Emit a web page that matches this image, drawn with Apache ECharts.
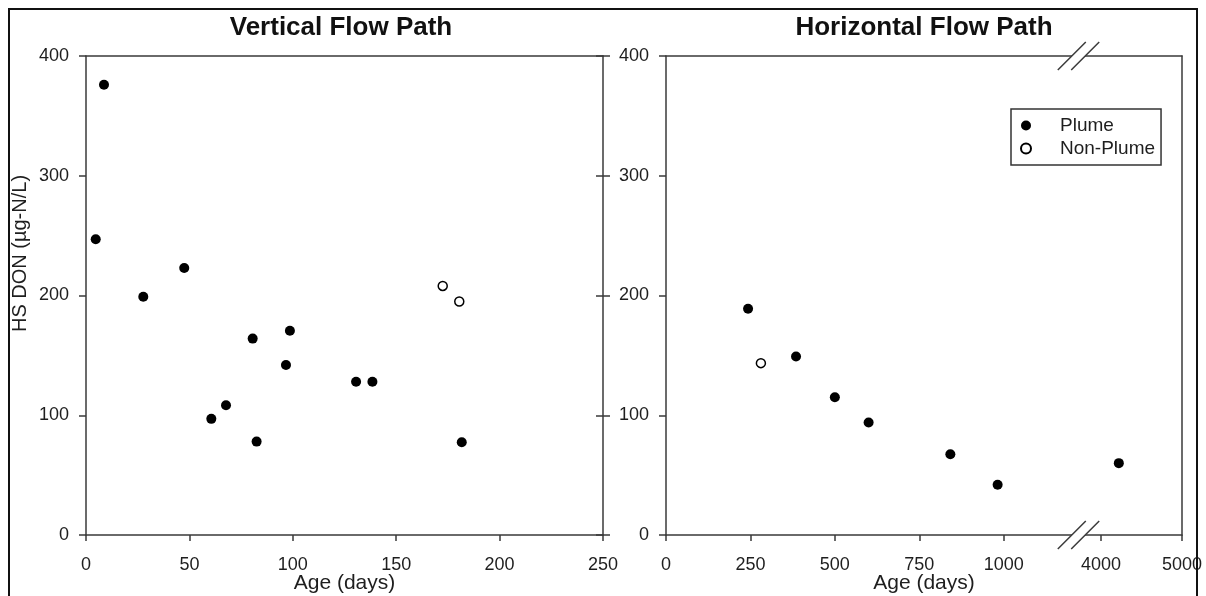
<!DOCTYPE html>
<html><head><meta charset="utf-8">
<script src="https://cdn.jsdelivr.net/npm/echarts@6/dist/echarts.min.js"></script>
<style>html,body{margin:0;padding:0;background:#fff}#c{width:1206px;height:596px}</style>
</head><body><div id="c"></div>
<script>
// ---- data ----
const verticalPlumeAge = [4.7, 8.7, 27.7, 47.5, 60.6, 67.7, 80.6, 82.5, 96.7, 98.6, 130.6, 138.5, 181.7];
const verticalPlumeDON = [247, 376, 199, 223, 97, 108.3, 164, 78, 142, 170.6, 128, 128, 77.5];
const verticalNonPlumeAge = [172.5, 180.5];
const verticalNonPlumeDON = [208, 195];
const horizontalPlumeAge = [243, 385, 500, 600, 842, 982, 4220];
const horizontalPlumeDON = [189, 149, 115, 94, 67.5, 42, 60];
const horizontalNonPlumeAge = [281];
const horizontalNonPlumeDON = [143.5];
const verticalAgeTicks = [0, 50, 100, 150, 200, 250];
const horizontalAgeTicksLow = [0, 250, 500, 750, 1000];
const horizontalAgeTicksHigh = [4000, 5000];
const donTicks = [0, 100, 200, 300, 400];
const breakLow = 1220, breakHigh = 3716;
const titles = ['Vertical Flow Path', 'Horizontal Flow Path'];
const seriesNames = ['Plume', 'Non-Plume'];

const pairs = (xs, ys) => xs.map((x, i) => [x, ys[i]]);
const FONT = 'Liberation Sans, Arial, sans-serif';
const AX = '#3a3a3a';
const TXT = '#1e1e1e';

const chart = echarts.init(document.getElementById('c'), null, {renderer: 'canvas'});

const gridTop = 56, gridH = 479;
const gb = {outerBoundsMode: 'none', containLabel: false, top: gridTop, height: gridH};
const grids = [
  Object.assign({left: 86, width: 517}, gb),
  Object.assign({left: 666, width: 412}, gb),
  Object.assign({left: 1078, width: 104}, gb),
  Object.assign({left: 666, width: 516}, gb),
  Object.assign({left: 86, width: 517}, gb)
];

const axLine = {show: true, onZero: false, lineStyle: {color: AX, width: 1.5}};
const noLine = {show: false, onZero: false};
const lineOnly = (extra) => Object.assign({
  type: 'value', axisLine: axLine,
  axisTick: {show: false}, axisLabel: {show: false}, splitLine: {show: false}
}, extra);

const fmt = v => String(v);
const tickLabel = {fontSize: 18, color: TXT, fontFamily: FONT, margin: 21, formatter: fmt};
const nameStyle = {fontSize: 21, color: TXT, fontFamily: FONT};
const tick = (extra) => Object.assign({show: true, length: 6, lineStyle: {color: AX, width: 1.5}}, extra || {});

const xAxis = [
  {gridIndex: 0, type: 'value', position: 'bottom', min: verticalAgeTicks[0], max: verticalAgeTicks[verticalAgeTicks.length - 1], interval: 50,
   axisLine: axLine, axisTick: tick(), axisLabel: tickLabel, splitLine: {show: false},
   name: 'Age (days)', nameLocation: 'middle', nameGap: 38, nameMoveOverlap: false, nameTextStyle: nameStyle},
  lineOnly({gridIndex: 0, position: 'top', min: 0, max: 250}),
  {gridIndex: 1, type: 'value', position: 'bottom', min: 0, max: breakLow,
   axisLine: axLine, axisTick: tick({customValues: horizontalAgeTicksLow}),
   axisLabel: Object.assign({customValues: horizontalAgeTicksLow}, tickLabel), splitLine: {show: false}},
  {gridIndex: 2, type: 'value', position: 'bottom', min: breakHigh, max: 5000,
   axisLine: axLine, axisTick: tick({customValues: horizontalAgeTicksHigh}),
   axisLabel: Object.assign({customValues: horizontalAgeTicksHigh}, tickLabel), splitLine: {show: false}},
  lineOnly({gridIndex: 3, position: 'top', min: 0, max: 1}),
  {gridIndex: 3, type: 'value', position: 'bottom', min: 0, max: 1, axisLine: noLine, axisTick: {show: false},
   axisLabel: {show: false}, splitLine: {show: false},
   name: 'Age (days)', nameLocation: 'middle', nameGap: 38, nameMoveOverlap: false, nameTextStyle: nameStyle},
  {gridIndex: 4, type: 'value', show: false, min: 0, max: 250, axisLine: noLine}
];

const yBase = {type: 'value', min: donTicks[0], max: donTicks[donTicks.length - 1], interval: 100, splitLine: {show: false}};
const yAxis = [
  Object.assign({gridIndex: 0, position: 'left', axisLine: axLine,
   axisTick: tick({length: 7}), axisLabel: Object.assign({}, tickLabel, {margin: 17}),
   name: 'HS DON (µg-N/L)', nameLocation: 'middle', nameGap: 56, nameMoveOverlap: false,
   nameTextStyle: Object.assign({}, nameStyle, {fontSize: 20, padding: [0, 0, 0, 84]})}, yBase),
  Object.assign({gridIndex: 0, position: 'right', axisLine: axLine,
   axisTick: tick({length: 7}), axisLabel: {show: false}}, yBase),
  Object.assign({gridIndex: 4, position: 'right', axisLine: noLine,
   axisTick: tick({inside: true, length: 7}), axisLabel: {show: false}}, yBase),
  Object.assign({gridIndex: 1, position: 'left', axisLine: axLine,
   axisTick: tick({length: 7}), axisLabel: Object.assign({}, tickLabel, {margin: 17})}, yBase),
  Object.assign({gridIndex: 2, show: false, axisLine: noLine}, yBase),
  Object.assign({gridIndex: 3, position: 'right', axisLine: axLine,
   axisTick: {show: false}, axisLabel: {show: false}}, yBase)
];

const filled = {symbol: 'circle', symbolSize: 10, itemStyle: {color: '#000', opacity: 1}};
const open = {symbol: 'circle', symbolSize: 9, itemStyle: {color: '#fff', borderColor: '#000', borderWidth: 1.5, opacity: 1}};
const hp = pairs(horizontalPlumeAge, horizontalPlumeDON);
const hn = pairs(horizontalNonPlumeAge, horizontalNonPlumeDON);

const series = [
  Object.assign({type: 'scatter', name: seriesNames[0], xAxisIndex: 0, yAxisIndex: 0, data: pairs(verticalPlumeAge, verticalPlumeDON)}, filled),
  Object.assign({type: 'scatter', name: seriesNames[1], xAxisIndex: 0, yAxisIndex: 0, data: pairs(verticalNonPlumeAge, verticalNonPlumeDON)}, open),
  Object.assign({type: 'scatter', name: seriesNames[0], xAxisIndex: 2, yAxisIndex: 3, data: hp.filter(p => p[0] <= breakLow)}, filled),
  Object.assign({type: 'scatter', name: seriesNames[1], xAxisIndex: 2, yAxisIndex: 3, data: hn.filter(p => p[0] <= breakLow)}, open),
  Object.assign({type: 'scatter', name: seriesNames[0], xAxisIndex: 3, yAxisIndex: 4, data: hp.filter(p => p[0] >= breakHigh)}, filled),
  {type: 'custom', xAxisIndex: 3, yAxisIndex: 4, clip: false, silent: true, z: 5,
   data: [[breakHigh, donTicks[0]], [breakHigh, donTicks[donTicks.length - 1]]],
   renderItem: function (params, api) {
     const p = api.coord([api.value(0), api.value(1)]);
     const x = p[0] + 0.5, y = p[1];
     const w = 14, h = 14, off = 6.7;
     return {type: 'group', children: [
       {type: 'polygon', shape: {points: [[x - off - w, y + h], [x - off + w, y - h], [x + off + w, y - h], [x + off - w, y + h]]}, style: {fill: '#fff'}},
       {type: 'line', shape: {x1: x - off - w, y1: y + h, x2: x - off + w, y2: y - h}, style: {stroke: AX, lineWidth: 1.5}},
       {type: 'line', shape: {x1: x + off - w, y1: y + h, x2: x + off + w, y2: y - h}, style: {stroke: AX, lineWidth: 1.5}}
     ]};
   }}
];

chart.setOption({
  animation: false,
  backgroundColor: '#fff',
  textStyle: {fontFamily: FONT},
  title: [
    {text: titles[0], left: 341, top: 15, textAlign: 'center', padding: 0, textStyle: {fontSize: 26, fontWeight: 'bold', color: '#111', fontFamily: FONT}},
    {text: titles[1], left: 924, top: 15, textAlign: 'center', padding: 0, textStyle: {fontSize: 26, fontWeight: 'bold', color: '#111', fontFamily: FONT}}
  ],
  legend: {
    data: seriesNames, left: 1011, top: 109, orient: 'vertical', icon: 'circle',
    itemWidth: 10, itemHeight: 10, itemGap: 4, padding: [7, 6, 7, 9],
    borderColor: '#333', borderWidth: 1.5, borderRadius: 0,
    textStyle: {fontSize: 19, color: TXT, fontFamily: FONT, padding: [0, 0, 0, 24]}
  },
  grid: grids,
  xAxis: xAxis,
  yAxis: yAxis,
  series: series,
  graphic: [{type: 'rect', shape: {x: 9, y: 9, width: 1188, height: 620}, style: {fill: 'none', stroke: '#111', lineWidth: 2}, z: 100}]
});
</script></body></html>
